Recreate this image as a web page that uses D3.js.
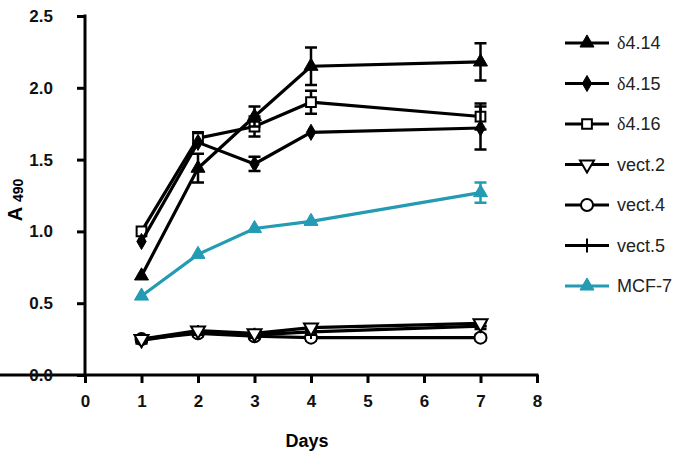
<!DOCTYPE html>
<html>
<head>
<meta charset="utf-8">
<script src="https://cdn.jsdelivr.net/npm/d3@7"></script>
<style>
  body { margin: 0; background: #fff; }
  svg { display: block; font-family: "Liberation Sans", Arial, sans-serif; }
</style>
</head>
<body>
<svg width="685" height="455"></svg>
<script>
const days = [1, 2, 3, 4, 7];
const xTicks = [0, 1, 2, 3, 4, 5, 6, 7, 8];
const yTicks = [0, 0.5, 1.0, 1.5, 2.0, 2.5];

// mean absorbance per series
const d414 = [0.69, 1.44, 1.80, 2.15, 2.18];
const d415 = [0.93, 1.62, 1.47, 1.69, 1.72];
const d416 = [1.00, 1.65, 1.73, 1.90, 1.80];
const vect2 = [0.25, 0.31, 0.29, 0.33, 0.36];
const vect4 = [0.25, 0.29, 0.27, 0.26, 0.26];
const vect5 = [0.24, 0.30, 0.28, 0.30, 0.34];
const mcf7 = [0.55, 0.84, 1.02, 1.07, 1.27];

// error bar half-widths (0 = not visible)
const e414 = [0, 0.10, 0.07, 0.13, 0.13];
const e415 = [0, 0, 0.05, 0, 0.15];
const e416 = [0, 0.04, 0.07, 0.08, 0.09];
const eSmall = [0.02, 0.02, 0.02, 0.02, 0.02];
const eMcf = [0, 0, 0, 0, 0.07];

const names = ["δ4.14", "δ4.15", "δ4.16", "vect.2", "vect.4", "vect.5", "MCF-7"];

const teal = "#239bb3";
const series = [
  {name: names[4], vals: vect4, err: eSmall, mark: "circle", color: "#000"},
  {name: names[5], vals: vect5, err: eSmall, mark: "plus", color: "#000"},
  {name: names[3], vals: vect2, err: eSmall, mark: "down", color: "#000"},
  {name: names[6], vals: mcf7, err: eMcf, mark: "tri", color: teal},
  {name: names[2], vals: d416, err: e416, mark: "square", color: "#000"},
  {name: names[1], vals: d415, err: e415, mark: "diamond", color: "#000"},
  {name: names[0], vals: d414, err: e414, mark: "tri", color: "#000"},
];
const legendOrder = [6, 5, 4, 2, 0, 1, 3];

const svg = d3.select('svg');
const x = d3.scaleLinear([0, 8], [85, 537]);
const y = d3.scaleLinear([0, 2.5], [375, 16]);

// axes
const xAxis = svg.append('g')
  .attr('transform', 'translate(0,375)')
  .call(d3.axisBottom(x).tickValues(xTicks).tickSize(8).tickSizeOuter(0).tickPadding(12));
const yAxis = svg.append('g')
  .attr('transform', 'translate(85,0)')
  .call(d3.axisLeft(y).tickValues(yTicks).tickFormat(d3.format('.1f')).tickSize(8).tickSizeOuter(0).tickPadding(24));
[xAxis, yAxis].forEach(g => {
  g.attr('font-size', 17).attr('font-family', '"Liberation Sans", Arial, sans-serif');
  g.selectAll('path, line').attr('stroke', '#000').attr('stroke-width', 3);
  g.selectAll('text').attr('font-weight', 'bold').attr('fill', '#111');
});
yAxis.select('.domain').attr('d', 'M0,14.5V376.5');
xAxis.select('.domain').attr('d', 'M-1.5,0H538.5');

svg.append('text')
  .attr('x', 307).attr('y', 447)
  .attr('text-anchor', 'middle')
  .attr('font-size', 18).attr('font-weight', 'bold')
  .text('Days');

const ylab = svg.append('text')
  .attr('transform', 'translate(22,200) rotate(-90)')
  .attr('text-anchor', 'middle')
  .attr('font-size', 20).attr('font-weight', 'bold');
ylab.append('tspan').text('A ');
ylab.append('tspan').attr('font-size', 14).attr('dy', 1).text('490');

function drawMark(g, mark, color, cx, cy, s) {
  s = s || 1;
  if (mark === 'tri' || mark === 'down' || mark === 'diamond' || mark === 'square') {
    const type = mark === 'diamond' ? d3.symbolDiamond : mark === 'square' ? d3.symbolSquare : d3.symbolTriangle;
    const size = mark === 'diamond' ? 75 : mark === 'square' ? 95 : 85;
    const open = mark === 'square' || mark === 'down';
    g.append('path')
      .attr('d', d3.symbol(type, size * s)())
      .attr('transform', `translate(${cx},${cy})` + (mark === 'down' ? ' rotate(180)' : ''))
      .attr('fill', open ? '#fff' : color)
      .attr('stroke', color).attr('stroke-width', open ? 2 : 1);
  } else if (mark === 'circle') {
    g.append('circle').attr('cx', cx).attr('cy', cy).attr('r', 6)
      .attr('fill', '#fff').attr('stroke', color).attr('stroke-width', 2);
  } else if (mark === 'plus') {
    g.append('line').attr('x1', cx).attr('x2', cx).attr('y1', cy - 7).attr('y2', cy + 7)
      .attr('stroke', color).attr('stroke-width', 2);
    g.append('line').attr('x1', cx - 6).attr('x2', cx + 6).attr('y1', cy).attr('y2', cy)
      .attr('stroke', color).attr('stroke-width', 2);
  }
}

const line = d3.line().x((d, i) => x(days[i])).y(d => y(d));
const plot = svg.append('g');

series.forEach(s => {
  const g = plot.append('g');
  // error bars
  s.vals.forEach((v, i) => {
    const e = s.err[i];
    if (!e) return;
    const cx = x(days[i]);
    g.append('path')
      .attr('d', `M${cx},${y(v - e)}V${y(v + e)}M${cx - 6},${y(v - e)}H${cx + 6}M${cx - 6},${y(v + e)}H${cx + 6}`)
      .attr('fill', 'none').attr('stroke', s.color).attr('stroke-width', 2.5);
  });
  g.append('path')
    .datum(s.vals)
    .attr('d', line)
    .attr('fill', 'none').attr('stroke', s.color).attr('stroke-width', 3.2);
  s.vals.forEach((v, i) => drawMark(g, s.mark, s.color, x(days[i]), y(v)));
});

// legend
const leg = svg.append('g');
legendOrder.forEach((si, r) => {
  const s = series[si];
  const ly = 43 + r * 40.5;
  leg.append('line').attr('x1', 565).attr('x2', 609).attr('y1', ly).attr('y2', ly)
    .attr('stroke', s.color).attr('stroke-width', 3);
  drawMark(leg, s.mark, s.color, 587, ly);
  const t = leg.append('text').attr('x', 617).attr('y', ly + 6)
    .attr('font-size', 18).attr('fill', '#222');
  if (s.name[0] === 'δ') {
    t.append('tspan').attr('font-family', '"Liberation Serif", serif').text('δ');
    t.append('tspan').text(s.name.slice(1));
  } else {
    t.text(s.name);
  }
});
</script>
</body>
</html>
